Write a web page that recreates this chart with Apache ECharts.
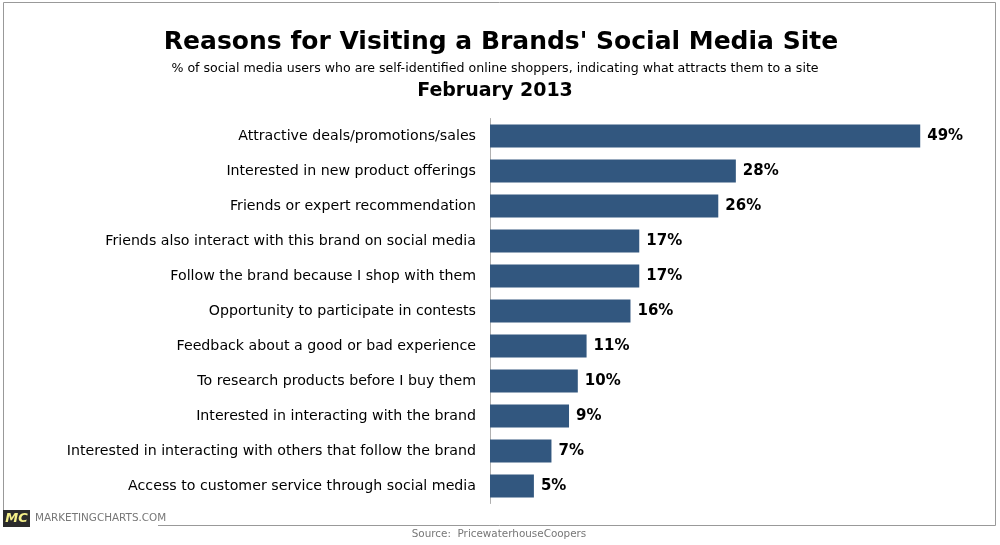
<!DOCTYPE html>
<html>
<head>
<meta charset="utf-8">
<style>html,body{margin:0;padding:0;background:#fff}#main{width:1000px;height:545px}</style>
<script src="https://cdn.jsdelivr.net/npm/echarts@6/dist/echarts.min.js"></script>
</head>
<body>
<div id="main"></div>
<script>
const categories = [
  'Attractive deals/promotions/sales',
  'Interested in new product offerings',
  'Friends or expert recommendation',
  'Friends also interact with this brand on social media',
  'Follow the brand because I shop with them',
  'Opportunity to participate in contests',
  'Feedback about a good or bad experience',
  'To research products before I buy them',
  'Interested in interacting with the brand',
  'Interested in interacting with others that follow the brand',
  'Access to customer service through social media'
];
const values = [49, 28, 26, 17, 17, 16, 11, 10, 9, 7, 5];

const font = '"DejaVu Sans", sans-serif';
const chart = echarts.init(document.getElementById('main'), null, { renderer: 'canvas' });

chart.setOption({
  animation: false,
  backgroundColor: '#fff',
  grid: { left: 490, top: 118.5, width: 439, height: 385, containLabel: false },
  xAxis: { type: 'value', min: 0, max: 50, show: false },
  yAxis: {
    type: 'category',
    inverse: true,
    data: categories,
    axisLine: { show: true, lineStyle: { color: '#b0b0b0', width: 1 } },
    axisTick: { show: false },
    axisLabel: { color: '#000', fontFamily: font, fontSize: 14.2, margin: 14 }
  },
  series: [{
    type: 'bar',
    data: values,
    barWidth: 23,
    itemStyle: { color: '#32577f' },
    label: {
      show: true,
      position: 'right',
      distance: 7,
      formatter: '{c}%',
      color: '#000',
      fontFamily: font,
      fontWeight: 'bold',
      fontSize: 15
    }
  }],
  graphic: [
    { type: 'rect', silent: true, shape: { x: 3.5, y: 2.5, width: 992, height: 523 },
      style: { fill: 'none', stroke: '#999', lineWidth: 1 } },
    { type: 'text', x: 501, y: 42, style: { text: "Reasons for Visiting a Brands' Social Media Site", align: 'center', verticalAlign: 'middle',
      fill: '#000', font: 'bold 25px ' + font } },
    { type: 'text', x: 495, y: 69, style: { text: '% of social media users who are self-identified online shoppers, indicating what attracts them to a site', align: 'center', verticalAlign: 'middle',
      fill: '#000', font: '12.6px ' + font } },
    { type: 'text', x: 495, y: 91, style: { text: 'February 2013', align: 'center', verticalAlign: 'middle',
      fill: '#000', font: 'bold 19px ' + font } },
    { type: 'rect', silent: true, shape: { x: 3, y: 510, width: 27, height: 17 }, style: { fill: '#2b2b2b' } },
    { type: 'text', x: 16.5, y: 518.5, style: { text: 'MC', align: 'center', verticalAlign: 'middle',
      fill: '#f5f08a', font: 'italic bold 13px ' + font } },
    { type: 'rect', silent: true, shape: { x: 30, y: 510, width: 128, height: 17 }, style: { fill: '#fff' } },
    { type: 'text', x: 35, y: 518.5, style: { text: 'MARKETINGCHARTS.COM', align: 'left', verticalAlign: 'middle',
      fill: '#777', font: '10.4px ' + font } },
    { type: 'text', x: 499, y: 534.5, style: { text: 'Source:  PricewaterhouseCoopers', align: 'center', verticalAlign: 'middle',
      fill: '#777', font: '10.4px ' + font } }
  ]
});
</script>
</body>
</html>
